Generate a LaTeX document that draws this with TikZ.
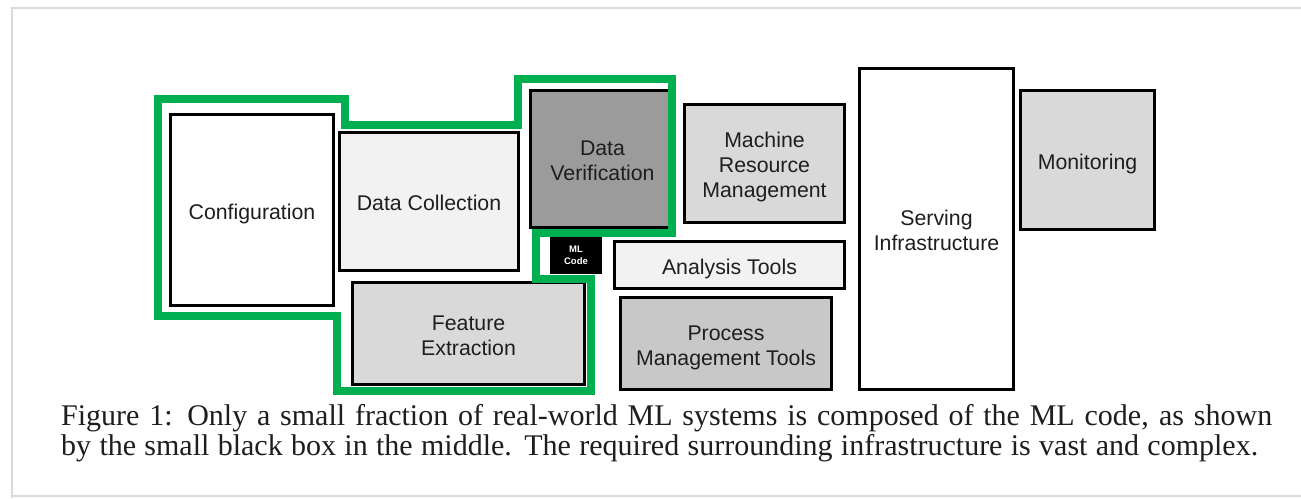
\documentclass[tikz,border=0pt]{standalone}
\usepackage{fontspec}
\setmainfont{Liberation Serif}
\setsansfont{Liberation Sans}
\definecolor{mlgreen}{HTML}{00B050}
\definecolor{dvgray}{HTML}{9B9B9B}
\definecolor{midgray}{HTML}{D9D9D9}
\definecolor{pmgray}{HTML}{C8C8C8}
\definecolor{lightbox}{HTML}{F2F2F2}
\definecolor{txt}{HTML}{1E1E1E}
\definecolor{framegray}{HTML}{DADADA}
\newcommand{\boxlines}[1]{\raisebox{-4pt}[\height][\depth]{\begin{tabular}{@{}c@{}}#1\end{tabular}}}
\begin{document}
\begin{tikzpicture}[x=1pt,y=-1pt,
  box/.style={draw=black, line width=3pt, inner sep=0pt,
    text=txt, font=\sffamily\fontsize{21.3}{25}\selectfont},
  mlbox/.style={draw=black, fill=black, line width=1pt, inner sep=0pt, align=center,
    text=white, font=\sffamily\bfseries\fontsize{9.5}{14}\selectfont},
  outline/.style={draw=mlgreen, line width=8pt, line join=miter},
  captionline/.style={anchor=base west, inner sep=0pt, text=txt,
    font=\rmfamily\fontsize{30}{30}\selectfont}]
\useasboundingbox (0,0) rectangle (1301,498);
\fill[white] (0,0) rectangle (1301,498);
% faint frame
\draw[framegray, line width=2pt] (1301,8) -- (12,8) -- (12,498);
\draw[framegray, line width=2pt] (12,496) -- (1301,496);

\node[box, fill=white, minimum width=163pt, minimum height=191pt] (conf) at (252,210) {\boxlines{Configuration}};
\node[box, fill=lightbox, minimum width=179pt, minimum height=138pt] (dc) at (429,201.5) {\boxlines{Data Collection}};
\node[box, fill=dvgray, minimum width=144pt, minimum height=137pt] (dv) at (602.5,159) {\boxlines{Data\\Verification}};
\node[box, fill=midgray, minimum width=160pt, minimum height=118pt] (mrm) at (764.5,163.5) {\boxlines{Machine\\Resource\\Management}};
\node[box, fill=white, minimum width=154pt, minimum height=321pt] (serv) at (936.5,229) {\boxlines{Serving\\Infrastructure}};
\node[box, fill=midgray, minimum width=134pt, minimum height=139pt] (mon) at (1087.5,160) {\boxlines{Monitoring}};
\node[mlbox, minimum width=51pt, minimum height=36pt] (ml) at (576,255.5) {ML\\[-2pt]Code};
\node[box, fill=lightbox, minimum width=230pt, minimum height=47pt] (at) at (729.5,265) {\boxlines{Analysis Tools}};
\node[box, fill=midgray, minimum width=232pt, minimum height=102pt] (fe) at (468.5,333.5) {\boxlines{Feature\\Extraction}};
\node[box, fill=pmgray, minimum width=211pt, minimum height=92pt] (pmt) at (726,343.5) {\boxlines{Process\\Management Tools}};

\draw[outline] (158,99) -- (344.5,99) -- (344.5,125) -- (517.5,125) -- (517.5,79)
  -- (671.5,79) -- (671.5,232.5) -- (535.5,232.5) -- (535.5,278.5) -- (590.5,278.5)
  -- (590.5,391) -- (337,391) -- (337,315.5) -- (158,315.5) -- cycle;

\node[captionline] (cap1) at (61,425) {\makebox[1211pt][s]{Figure 1: Only a small fraction of real-world ML systems is composed of the ML code, as shown}};
\node[captionline] (cap2) at (61,455) {\makebox[1197pt][s]{by the small black box in the middle. The required surrounding infrastructure is vast and complex.}};
\end{tikzpicture}
\end{document}
